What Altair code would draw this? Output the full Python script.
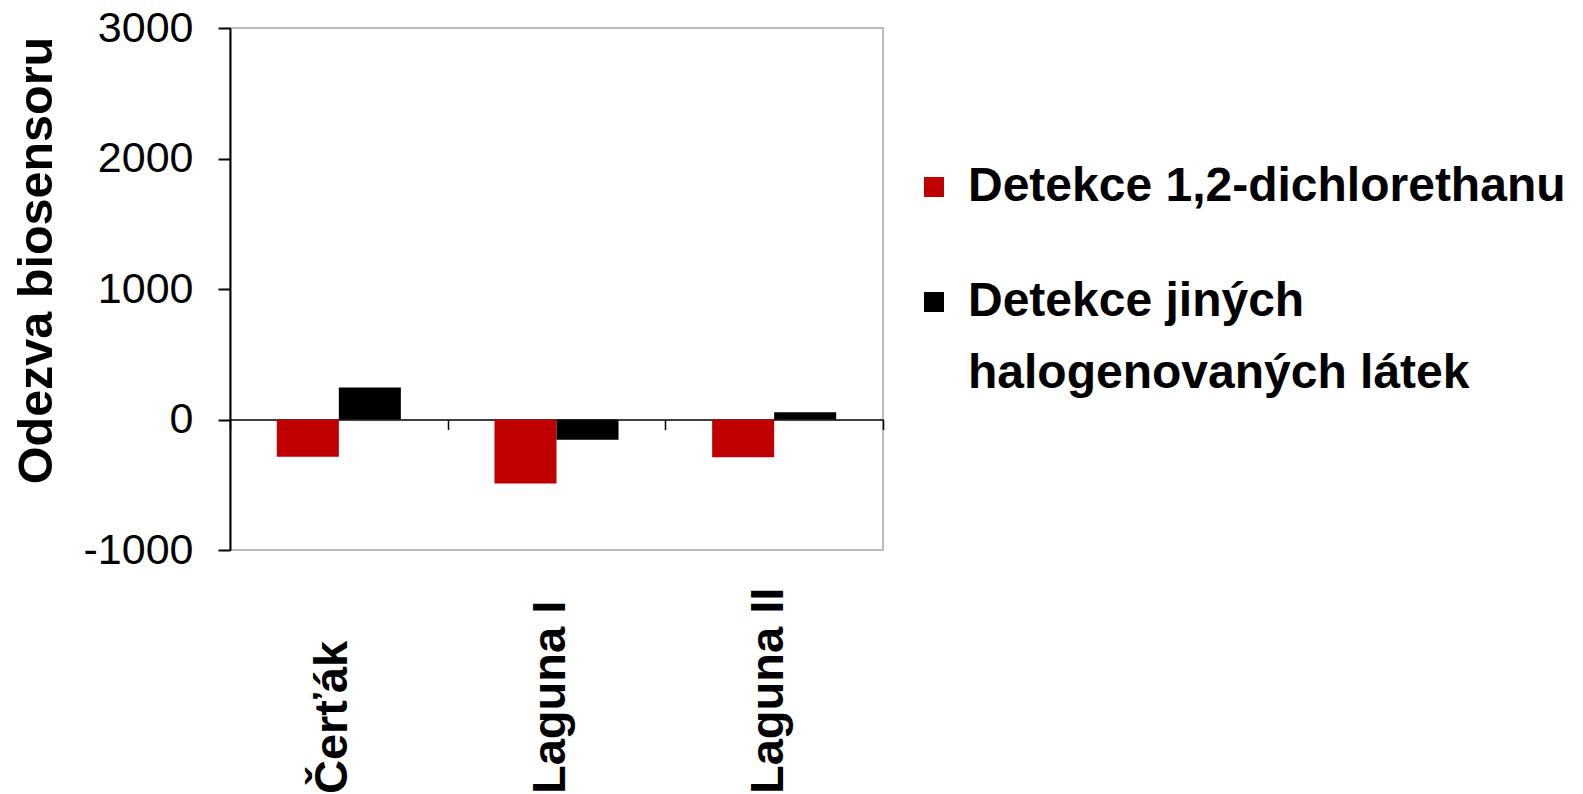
import altair as alt
import pandas as pd

sites = ["Čerťák", "Laguna I", "Laguna II"]
series = ["Detekce 1,2-dichlorethanu", "Detekce jiných halogenovaných látek"]
dichlorethane = [-285, -490, -290]
other_halogenated = [245, -155, 55]
colors = ["#C00000", "#000000"]
y_ticks = [-1000, 0, 1000, 2000, 3000]

rows = []
for i, s in enumerate(sites):
    rows.append({"site": s, "series": series[0], "value": dichlorethane[i]})
    rows.append({"site": s, "series": series[1], "value": other_halogenated[i]})
df = pd.DataFrame(rows)

W, H = 653, 522
zero_px = H * 3000 / 4000
FONT = "Liberation Sans"

label_expr = (
    "datum.label == 'Detekce jiných halogenovaných látek' ? "
    "['Detekce jiných', 'halogenovaných látek'] : datum.label"
)

chart = (
    alt.Chart(df)
    .mark_bar()
    .encode(
        x=alt.X(
            "site:N",
            sort=sites,
            title=None,
            scale=alt.Scale(paddingInner=0, paddingOuter=0),
            axis=alt.Axis(
                orient="bottom",
                offset=-(H - zero_px),
                domainColor="#000000",
                domainWidth=1.5,
                tickColor="#000000",
                tickWidth=1.5,
                tickSize=10,
                tickBand="extent",
                labelAngle=270,
                labelAlign="left",
                labelBaseline="middle",
                labelPadding=364,
                labelOffset=-6,
                labelFont=FONT,
                labelFontSize=47,
                labelFontWeight="bold",
                labelColor="#000000",
                labelLimit=1000,
                grid=False,
            ),
        ),
        xOffset=alt.XOffset(
            "series:N",
            sort=series,
            scale=alt.Scale(paddingInner=0, paddingOuter=0.755),
        ),
        y=alt.Y(
            "value:Q",
            title="Odezva biosensoru",
            scale=alt.Scale(domain=[-1000, 3000], nice=False, zero=False),
            axis=alt.Axis(
                values=y_ticks,
                labelExpr="'' + datum.value",
                grid=False,
                domainColor="#000000",
                domainWidth=2,
                tickColor="#000000",
                tickWidth=2,
                tickSize=12,
                labelPadding=25,
                labelFont=FONT,
                labelFontSize=43,
                labelColor="#000000",
                titleFont=FONT,
                titleFontSize=48.5,
                titleFontWeight="bold",
                titleColor="#000000",
                titlePadding=22,
                titleY=232,
            ),
        ),
        color=alt.Color(
            "series:N",
            sort=series,
            scale=alt.Scale(domain=series, range=colors),
            legend=alt.Legend(
                title=None,
                orient="none",
                legendX=680,
                legendY=135,
                symbolType="square",
                symbolSize=400,
                symbolStrokeWidth=0,
                labelFont=FONT,
                labelFontSize=48,
                labelFontWeight="bold",
                labelColor="#000000",
                labelOffset=10,
                labelLimit=1000,
                rowPadding=67,
                labelExpr=label_expr,
            ),
        ),
    )
    .properties(width=W, height=H, padding={"left": 12, "top": 7, "right": 5, "bottom": 0})
    .configure(style={"guide-label": {"lineHeight": 72}})
    .configure_view(stroke="#A6A6A6", strokeWidth=1.5)
)

chart.save("out.html", embed_options={"renderer": "svg", "actions": False})
